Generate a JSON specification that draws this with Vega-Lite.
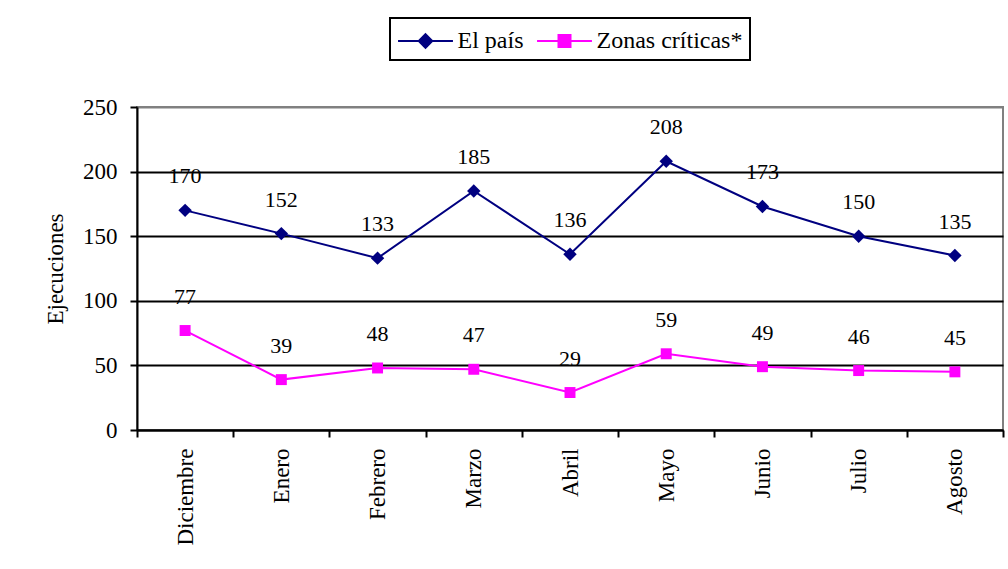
{
  "$schema": "https://vega.github.io/schema/vega-lite/v6.json",
  "width": 866,
  "height": 323,
  "autosize": {"type": "none"},
  "padding": {"left": 137, "top": 107, "right": 5, "bottom": 139},
  "background": "white",
  "config": {
    "font": "Liberation Serif",
    "view": {"stroke": "#808080", "strokeWidth": 2},
    "text": {"font": "Liberation Serif"},
    "legend": {"labelFont": "Liberation Serif"}
  },
  "data": {
    "values": [
      {"mes": "Diciembre", "serie": "El país", "valor": 170},
      {"mes": "Enero", "serie": "El país", "valor": 152},
      {"mes": "Febrero", "serie": "El país", "valor": 133},
      {"mes": "Marzo", "serie": "El país", "valor": 185},
      {"mes": "Abril", "serie": "El país", "valor": 136},
      {"mes": "Mayo", "serie": "El país", "valor": 208},
      {"mes": "Junio", "serie": "El país", "valor": 173},
      {"mes": "Julio", "serie": "El país", "valor": 150},
      {"mes": "Agosto", "serie": "El país", "valor": 135},
      {"mes": "Diciembre", "serie": "Zonas críticas*", "valor": 77},
      {"mes": "Enero", "serie": "Zonas críticas*", "valor": 39},
      {"mes": "Febrero", "serie": "Zonas críticas*", "valor": 48},
      {"mes": "Marzo", "serie": "Zonas críticas*", "valor": 47},
      {"mes": "Abril", "serie": "Zonas críticas*", "valor": 29},
      {"mes": "Mayo", "serie": "Zonas críticas*", "valor": 59},
      {"mes": "Junio", "serie": "Zonas críticas*", "valor": 49},
      {"mes": "Julio", "serie": "Zonas críticas*", "valor": 46},
      {"mes": "Agosto", "serie": "Zonas críticas*", "valor": 45}
    ]
  },
  "encoding": {
    "x": {
      "field": "mes",
      "type": "nominal",
      "sort": null,
      "bandPosition": 0.5,
      "scale": {"type": "band", "paddingInner": 0, "paddingOuter": 0},
      "axis": {
        "title": null,
        "tickBand": "extent",
        "labelAngle": -90,
        "labelAlign": "right",
        "labelBaseline": "middle",
        "labelFont": "Liberation Serif",
        "labelFontSize": 23,
        "labelColor": "black",
        "labelPadding": 11,
        "tickSize": 7,
        "tickColor": "black",
        "tickWidth": 2,
        "domainColor": "black",
        "domainWidth": 2,
        "grid": false
      }
    },
    "y": {
      "field": "valor",
      "type": "quantitative",
      "scale": {"domain": [0, 250], "nice": false},
      "axis": {
        "title": "Ejecuciones",
        "titleFont": "Liberation Serif",
        "titleFontSize": 23,
        "titleFontWeight": "normal",
        "titleColor": "black",
        "titlePadding": 15,
        "values": [0, 50, 100, 150, 200, 250],
        "labelFont": "Liberation Serif",
        "labelFontSize": 23,
        "labelColor": "black",
        "labelPadding": 13,
        "tickSize": 7,
        "tickColor": "black",
        "tickWidth": 2,
        "domainColor": "black",
        "domainWidth": 2,
        "grid": true,
        "gridColor": {"condition": {"test": "datum.value == 250", "value": "#808080"}, "value": "black"},
        "gridWidth": 2,
        "gridOpacity": 1
      }
    },
    "color": {
      "field": "serie",
      "type": "nominal",
      "scale": {"domain": ["El país", "Zonas críticas*"], "range": ["#000080", "#FF00FF"]},
      "legend": {
        "title": null,
        "orient": "none",
        "legendX": 253,
        "legendY": -89,
        "direction": "horizontal",
        "strokeColor": "black",
        "fillColor": "white",
        "padding": 7,
        "labelFont": "Liberation Serif",
        "labelFontSize": 24,
        "labelColor": "black",
        "labelOffset": 16,
        "symbolOffset": 12.5,
        "columnPadding": 9,
        "symbolSize": 900,
        "symbolStrokeWidth": 2,
        "symbolOpacity": 1,
        "encode": {
          "legend": {
            "update": {"strokeWidth": {"value": 2}}
          },
          "symbols": {
            "update": {
              "shape": {"signal": "datum.value === 'El país' ? 'M-1.83,0L1.83,0M0,-0.45L0.45,0L0,0.45L-0.45,0Z' : 'M-1.83,0L1.83,0M-0.4,-0.4L0.4,-0.4L0.4,0.4L-0.4,0.4Z'"},
              "size": {"value": 900},
              "fill": {"signal": "datum.value === 'El país' ? '#000080' : '#FF00FF'"},
              "stroke": {"signal": "datum.value === 'El país' ? '#000080' : '#FF00FF'"}
            }
          }
        }
      }
    }
  },
  "layer": [
    {
      "mark": {"type": "line", "strokeWidth": 2}
    },
    {
      "transform": [{"filter": "datum.serie === 'El país'"}],
      "mark": {"type": "point", "filled": true, "opacity": 1, "shape": "diamond", "size": 180}
    },
    {
      "transform": [{"filter": "datum.serie !== 'El país'"}],
      "mark": {"type": "point", "filled": true, "opacity": 1, "shape": "square", "size": 120}
    },
    {
      "mark": {"type": "text", "dy": -34, "fontSize": 22, "font": "Liberation Serif", "color": "black", "baseline": "middle"},
      "encoding": {
        "text": {"field": "valor", "type": "quantitative"},
        "color": {"value": "black"}
      }
    }
  ]
}
